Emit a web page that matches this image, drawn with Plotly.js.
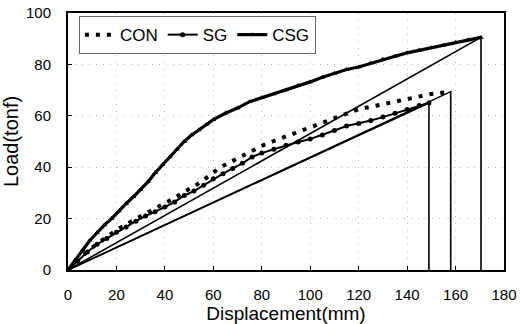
<!DOCTYPE html>
<html>
<head>
<meta charset="utf-8">
<script src="https://cdn.plot.ly/plotly-3.0.1.min.js"></script>
<style>html,body{margin:0;padding:0;background:#fff;}#chart{width:524px;height:324px;}</style>
</head>
<body>
<div id="chart"></div>
<script>
// CON specimen
var conX = [0,4,8,12,16,20,24,28,32,36,40,44,48,52,56,60,64,68,72,76,80,85,90,95,100,105,110,115,120,125,130,135,140,145,150,158];
var conY = [0,3.8,7.2,10.2,13,15.5,17.8,20,22,24,26,28,30.5,32.5,35,38,40.5,42.5,44.2,46.3,48.3,50.2,52,54,55.7,57.2,59.3,61,62.6,63.5,64.5,65.5,66.6,67.8,68.5,69.4];
// SG specimen
var sgX = [0,4,8,12,16,20,24,28,32,36,40,44,48,52,56,60,64,68,72,76,80,85,90,95,100,105,110,115,120,125,130,135,140,145,149];
var sgY = [0,3.5,7,10,12.3,14.7,16.7,19,21,22.7,24.5,26.5,29,30.7,33,35.5,37.5,39.5,41.5,44,45.5,47,48.5,49.8,51,52.5,54.3,56,57,58.2,59.5,61,62.5,64,65];
// CSG specimen
var csgX = [0,3,6,9,12,15,18,21,24,27,30,33,36,39,42,45,48,51,54,57,60,65,70,75,80,85,90,95,100,105,110,115,120,125,130,135,140,145,150,155,160,165,170.5];
var csgY = [0,4,7.8,11.5,14.5,17.5,20,23,25.8,28.5,31.3,34.3,37.8,41,44,47,50,52.5,54.5,56.5,58.5,61,63,65.5,67,68.5,70,71.8,73.2,75,76.5,78,79,80.5,82,83.2,84.5,85.5,86.5,87.5,88.5,89.5,90.5];
// failure points (peak of each specimen)
var names = ['CON','SG','CSG'];
var peakX = [158,149,170.5];
var peakY = [69.4,65,90.5];
var xTicks = [0,20,40,60,80,100,120,140,160,180];
var yTicks = [0,20,40,60,80,100];

var traces = [];
// secant + drop lines
for (var i = 0; i < names.length; i++) {
  traces.push({x:[0,peakX[i],peakX[i]], y:[0,peakY[i],0], mode:'lines',
    line:{color:'#000',width:1.6}, showlegend:false, hoverinfo:'skip'});
}
traces.push({x:conX, y:conY, name:'CON', mode:'lines',
  line:{color:'#000', width:4, dash:'4px,7px'}});
traces.push({x:sgX, y:sgY, name:'SG', mode:'lines+markers',
  line:{color:'#000', width:2}, marker:{symbol:'circle', size:5, color:'#000'}});
traces.push({x:csgX, y:csgY, name:'CSG', mode:'lines+markers',
  line:{color:'#000', width:3.2}, marker:{symbol:'triangle-up', size:5, color:'#000'}});

var layout = {
  width:524, height:324,
  margin:{l:68, r:20, t:13, b:54},
  paper_bgcolor:'#fff', plot_bgcolor:'#fff',
  font:{family:'Liberation Sans, Arial, sans-serif', color:'#000', size:15},
  showlegend:true,
  legend:{orientation:'h', x:0.025, y:0.988, xanchor:'left', yanchor:'top',
    bordercolor:'#666', borderwidth:1, bgcolor:'#fff',
    font:{size:17, color:'#000'}, tracegroupgap:0},
  xaxis:{range:[0,180], tickvals:xTicks, ticktext:xTicks.map(String),
    ticks:'inside', ticklen:4, tickcolor:'#000', tickwidth:1,
    showline:true, linecolor:'#000', linewidth:2, mirror:true,
    showgrid:true, gridcolor:'#bbb', griddash:'1px,6px', gridwidth:1,
    zeroline:false, ticklabelstandoff:10,
    tickfont:{size:15},
    title:{text:'Displacement(mm)', font:{size:19}, standoff:2}},
  yaxis:{range:[0,100], tickvals:yTicks, ticktext:yTicks.map(String),
    ticks:'inside', ticklen:4, tickcolor:'#000', tickwidth:1,
    showline:true, linecolor:'#000', linewidth:2, mirror:true,
    showgrid:true, gridcolor:'#bbb', griddash:'1px,6px', gridwidth:1,
    zeroline:false, ticklabelstandoff:12,
    tickfont:{size:15},
    title:{text:'Load(tonf)', font:{size:20}, standoff:2}}
};
Plotly.newPlot('chart', traces, layout, {displayModeBar:false, staticPlot:true});
</script>
</body>
</html>
